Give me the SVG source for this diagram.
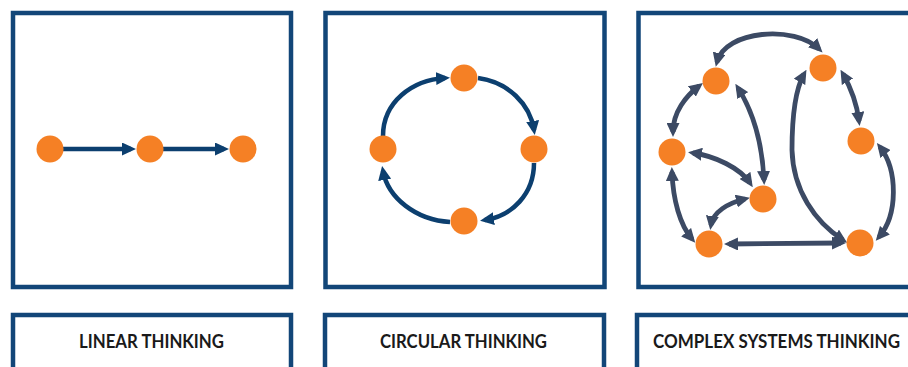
<svg xmlns="http://www.w3.org/2000/svg" width="908" height="367" viewBox="0 0 908 367">
<style>
.frame{fill:#fff;stroke:#124678;stroke-width:4.5}
.node{fill:#F58025}
.navy{fill:none;stroke:#0C3F6F;stroke-width:4.5}
.slate{fill:none;stroke:#3C4A64;stroke-width:4.8}
.lbl{font-family:Lato,"Open Sans","Liberation Sans",sans-serif;font-weight:bold;font-size:18.5px;fill:#1a1a1a;text-anchor:middle}
</style>
<defs>
<marker id="an" markerUnits="userSpaceOnUse" markerWidth="14" markerHeight="13" refX="9" refY="6.5" orient="auto-start-reverse" viewBox="0 0 14 13"><path d="M0,0 L14,6.5 L0,13 z" fill="#0C3F6F"/></marker>
<marker id="as" markerUnits="userSpaceOnUse" markerWidth="14" markerHeight="13" refX="9" refY="6.5" orient="auto-start-reverse" viewBox="0 0 14 13"><path d="M0,0 L14,6.5 L0,13 z" fill="#3C4A64"/></marker>
</defs>
<rect width="908" height="367" fill="#fff"/>
<g id="panels">
<rect class="frame" x="13" y="13" width="278" height="274"/>
<rect class="frame" x="325.5" y="13" width="279" height="274"/>
<rect class="frame" x="638.5" y="13" width="300" height="274"/>
</g>
<g id="connectors">
<path class="navy" d="M50,149 L131,149" marker-end="url(#an)"/>
<path class="navy" d="M150,149 L224,149" marker-end="url(#an)"/>
<path class="navy" d="M383,136 C383,102 412,80 445,78" marker-end="url(#an)"/>
<path class="navy" d="M478,78 C508,82 530,104 534,130" marker-end="url(#an)"/>
<path class="navy" d="M534,163 C534,194 512,216 485,220" marker-end="url(#an)"/>
<path class="navy" d="M450,222 C416,220 388,198 383,171" marker-end="url(#an)"/>
<path class="slate" d="M717,62 C725,30 795,25 819,49" marker-start="url(#as)" marker-end="url(#as)"/>
<path class="slate" d="M699,86 C686,96 673,112 673,132" marker-start="url(#as)" marker-end="url(#as)"/>
<path class="slate" d="M738,88 C752,110 762,140 764,180" marker-start="url(#as)" marker-end="url(#as)"/>
<path class="slate" d="M693,153 C715,156 740,168 750,183" marker-start="url(#as)" marker-end="url(#as)"/>
<path class="slate" d="M745,199 C728,203 713,212 711,225" marker-start="url(#as)" marker-end="url(#as)"/>
<path class="slate" d="M672,172 C673,200 680,225 692,239" marker-start="url(#as)" marker-end="url(#as)"/>
<path class="slate" d="M729,244 L841,243" marker-start="url(#as)" marker-end="url(#as)"/>
<path class="slate" d="M804,74 C795,90 792,120 792,150 C793,190 815,222 843,240" marker-start="url(#as)" marker-end="url(#as)"/>
<path class="slate" d="M843,74 C851,88 857,105 859,121" marker-start="url(#as)" marker-end="url(#as)"/>
<path class="slate" d="M880,147 C898,170 898,215 879,237" marker-start="url(#as)" marker-end="url(#as)"/>
</g>
<g id="linear-nodes">
<circle class="node" cx="50" cy="149" r="13.5"/>
<circle class="node" cx="150" cy="149" r="13.5"/>
<circle class="node" cx="243" cy="149" r="13.5"/>
</g>
<g id="circular-nodes">
<circle class="node" cx="464" cy="78" r="13.5"/>
<circle class="node" cx="534" cy="149" r="13.5"/>
<circle class="node" cx="464" cy="221" r="13.5"/>
<circle class="node" cx="383" cy="149" r="13.5"/>
</g>
<g id="complex-nodes">
<circle class="node" cx="716" cy="81" r="13.5"/>
<circle class="node" cx="823" cy="68" r="13.5"/>
<circle class="node" cx="672" cy="152" r="13.5"/>
<circle class="node" cx="861" cy="141" r="13.5"/>
<circle class="node" cx="763" cy="199" r="13.5"/>
<circle class="node" cx="709" cy="244" r="13.5"/>
<circle class="node" cx="860" cy="243" r="13.5"/>
</g>
<g id="label-linear">
<rect class="frame" x="13" y="315" width="278" height="60"/>
<text class="lbl" x="151.5" y="348" textLength="145" lengthAdjust="spacingAndGlyphs">LINEAR THINKING</text>
</g>
<g id="label-circular">
<rect class="frame" x="325" y="315" width="279" height="60"/>
<text class="lbl" x="463.5" y="348" textLength="167" lengthAdjust="spacingAndGlyphs">CIRCULAR THINKING</text>
</g>
<g id="label-complex">
<rect class="frame" x="637" y="315" width="300" height="60"/>
<text class="lbl" x="776.5" y="348" textLength="247" lengthAdjust="spacingAndGlyphs">COMPLEX SYSTEMS THINKING</text>
</g>
</svg>
